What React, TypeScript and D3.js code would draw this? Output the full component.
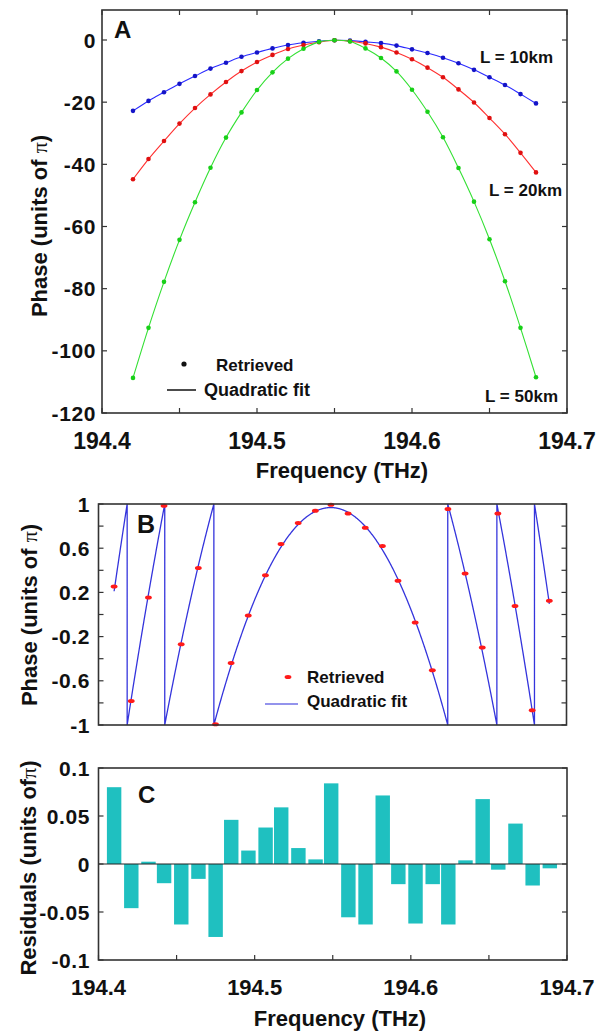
import React from "react";
import * as d3 from "d3";

// ---------- Panel A data ----------
const freqA = [194.42, 194.43, 194.44, 194.45, 194.46, 194.47, 194.48, 194.49, 194.5, 194.51, 194.52, 194.53, 194.54, 194.55, 194.56, 194.57, 194.58, 194.59, 194.6, 194.61, 194.62, 194.63, 194.64, 194.65, 194.66, 194.67, 194.68];
const phase10km = [-22.8, -19.6, -16.8, -14.1, -11.6, -9.2, -7.3, -5.4, -4.0, -2.7, -1.6, -0.9, -0.4, -0.1, -0.2, -0.6, -1.0, -1.8, -3.0, -4.2, -5.7, -7.5, -9.6, -12.0, -14.5, -17.4, -20.4];
const phase20km = [-44.8, -38.3, -32.5, -26.9, -21.9, -17.5, -13.5, -10.0, -7.1, -4.8, -2.9, -1.6, -0.7, -0.1, -0.4, -1.1, -2.3, -4.0, -6.2, -8.9, -12.0, -15.9, -20.1, -25.1, -30.3, -36.3, -42.6];
const phase50km = [-108.7, -92.6, -77.8, -64.3, -52.2, -41.1, -31.4, -23.3, -16.1, -10.4, -6.0, -2.8, -0.6, -0.1, -0.5, -2.7, -5.8, -10.1, -16.0, -23.1, -31.3, -41.2, -52.0, -64.1, -77.6, -92.6, -108.5];
const seriesLabels = ["L = 10km", "L = 20km", "L = 50km"];

// ---------- Panel B / C data ----------
const freqB = [194.410, 194.421, 194.432, 194.442, 194.453, 194.464, 194.475, 194.485, 194.496, 194.507, 194.517, 194.528, 194.539, 194.549, 194.560, 194.571, 194.582, 194.592, 194.603, 194.614, 194.624, 194.635, 194.646, 194.656, 194.667, 194.678, 194.689];
const wrappedPhase = [0.254, -0.782, 0.154, 0.985, -0.269, 0.42, -0.994, -0.438, -0.009, 0.356, 0.637, 0.828, 0.94, 0.994, 0.915, 0.785, 0.619, 0.305, -0.073, -0.505, 0.955, 0.372, -0.299, 0.915, 0.076, -0.867, 0.124];
const residuals = [0.080, -0.046, 0.0024, -0.020, -0.063, -0.0155, -0.076, 0.046, 0.014, 0.038, 0.059, 0.0166, 0.0048, 0.084, -0.0555, -0.063, 0.0714, -0.021, -0.062, -0.021, -0.063, 0.0038, 0.0676, -0.0059, 0.0421, -0.0224, -0.0045];

// ---------- ticks ----------
const ticksX = [194.4, 194.45, 194.5, 194.55, 194.6, 194.65, 194.7];
const labelsX = ["194.4", "194.5", "194.6", "194.7"];
const ticksAY = [-120, -100, -80, -60, -40, -20, 0];
const ticksBY = [-1, -0.8, -0.6, -0.4, -0.2, 0, 0.2, 0.4, 0.6, 0.8, 1];
const labelsBY = ["-1", "-0.6", "-0.2", "0.2", "0.6", "1"];
const ticksCY = [-0.1, -0.05, 0, 0.05, 0.1];
const labelsCY = ["-0.1", "-0.05", "0", "0.05", "0.1"];

const FONT = "'Liberation Sans', Arial, sans-serif";
const FRAME = "#333";

function unwrap(w: number[]): number[] {
  const u: number[] = [w[0]];
  for (let i = 1; i < w.length; i++) {
    const p = i === 1 ? u[0] : 2 * u[i - 1] - u[i - 2];
    u.push(w[i] + 2 * Math.round((p - w[i]) / 2));
  }
  return u;
}

function quadFit(x: number[], y: number[]) {
  const m = d3.mean(x) as number;
  let s0 = 0, s1 = 0, s2 = 0, s3 = 0, s4 = 0, t0 = 0, t1 = 0, t2 = 0;
  x.forEach((xi, i) => {
    const t = xi - m;
    s0 += 1; s1 += t; s2 += t * t; s3 += t * t * t; s4 += t * t * t * t;
    t0 += y[i]; t1 += y[i] * t; t2 += y[i] * t * t;
  });
  const A = [[s0, s1, s2, t0], [s1, s2, s3, t1], [s2, s3, s4, t2]];
  for (let c = 0; c < 3; c++) {
    for (let r = c + 1; r < 3; r++) {
      const f = A[r][c] / A[c][c];
      for (let k = c; k < 4; k++) A[r][k] -= f * A[c][k];
    }
  }
  const sol = [0, 0, 0];
  for (let r = 2; r >= 0; r--) {
    let s = A[r][3];
    for (let k = r + 1; k < 3; k++) s -= A[r][k] * sol[k];
    sol[r] = s / A[r][r];
  }
  return (f: number) => {
    const t = f - m;
    return sol[0] + sol[1] * t + sol[2] * t * t;
  };
}

export default function App() {
  // ---------- Panel A scales ----------
  const xA = d3.scaleLinear().domain([194.4, 194.7]).range([102, 567]);
  const yA = d3.scaleLinear().domain([-120, 0]).range([413, 40]);
  const topA = 10;
  const lineA = d3.line<number>().x((_, i) => xA(freqA[i])).y((d) => yA(d)).curve(d3.curveCatmullRom.alpha(0.5));
  const seriesA = [
    { data: phase10km, line: "#2a2aff", dot: "#1414c8" },
    { data: phase20km, line: "#ff3030", dot: "#e01010" },
    { data: phase50km, line: "#33e033", dot: "#18d018" },
  ];

  // ---------- Panel B scales ----------
  const xB = d3.scaleLinear().domain([194.4, 194.7]).range([98.5, 566.5]);
  const yB = d3.scaleLinear().domain([-1, 1]).range([725, 504]);
  const unwrapped = unwrap(wrappedPhase);
  const fit = quadFit(freqB, unwrapped);
  const f0 = freqB[0], f1 = freqB[freqB.length - 1];
  const N = 1200;
  const ptsB: [number, number][] = [];
  let prevK: number | null = null, prevF = 0, prevV = 0;
  for (let i = 0; i <= N; i++) {
    const f = f0 + ((f1 - f0) * i) / N;
    const v = fit(f);
    const k = Math.floor((v + 1) / 2);
    if (prevK !== null && k !== prevK) {
      const b = 2 * Math.max(k, prevK) - 1;
      const fc = prevF + ((b - prevV) / (v - prevV)) * (f - prevF);
      if (k > prevK) { ptsB.push([fc, 1]); ptsB.push([fc, -1]); }
      else { ptsB.push([fc, -1]); ptsB.push([fc, 1]); }
    }
    ptsB.push([f, v - 2 * k]);
    prevK = k; prevF = f; prevV = v;
  }
  const pathB = d3.line<[number, number]>().x((d) => xB(d[0])).y((d) => yB(d[1]))(ptsB) || "";

  // ---------- Panel C scales ----------
  const xC = d3.scaleLinear().domain([194.4, 194.7]).range([98.5, 567]);
  const yC = d3.scaleLinear().domain([-0.1, 0.1]).range([960, 768]);
  const barW = (xC(freqB[1]) - xC(freqB[0])) * 0.84;

  const tickLen = 5;

  return (
    <svg width={600} height={1033} style={{ position: "absolute", left: 0, top: 0, background: "#fff" }} fontFamily={FONT}>
      <rect x={0} y={0} width={600} height={1033} fill="#fff" />
      {/* ================= Panel A ================= */}
      <g>
        {seriesA.map((s, si) => (
          <g key={si}>
            <path d={lineA(s.data) || ""} fill="none" stroke={s.line} strokeWidth={1.1} />
            {s.data.map((v, i) => (
              <circle key={i} cx={xA(freqA[i])} cy={yA(v)} r={2.3} fill={s.dot} />
            ))}
          </g>
        ))}
        <rect x={xA(194.4)} y={topA} width={xA(194.7) - xA(194.4)} height={yA(-120) - topA} fill="none" stroke={FRAME} strokeWidth={1.6} />
        {ticksX.map((t) => (
          <g key={t}>
            <line x1={xA(t)} x2={xA(t)} y1={yA(-120)} y2={yA(-120) - tickLen} stroke={FRAME} strokeWidth={1.2} />
            <line x1={xA(t)} x2={xA(t)} y1={topA} y2={topA + tickLen} stroke={FRAME} strokeWidth={1.2} />
          </g>
        ))}
        {ticksAY.map((t) => (
          <g key={t}>
            <line x1={xA(194.4)} x2={xA(194.4) + tickLen} y1={yA(t)} y2={yA(t)} stroke={FRAME} strokeWidth={1.2} />
            <line x1={xA(194.7)} x2={xA(194.7) - tickLen} y1={yA(t)} y2={yA(t)} stroke={FRAME} strokeWidth={1.2} />
            <text x={96} y={yA(t)} dy="0.36em" textAnchor="end" fontSize={21} fontWeight="bold" fill="#111" letterSpacing={0.6}>{String(t)}</text>
          </g>
        ))}
        {labelsX.map((l) => (
          <text key={l} x={xA(+l)} y={449} textAnchor="middle" fontSize={23} fontWeight="bold" fill="#111">{l}</text>
        ))}
        <text x={342} y={478} textAnchor="middle" fontSize={22} fontWeight="bold" fill="#111">Frequency (THz)</text>
        <text transform="translate(47,226) rotate(-90)" textAnchor="middle" fontSize={22} fontWeight="bold" fill="#111">
          Phase (units of <tspan fontFamily="'Liberation Serif', serif" fontWeight="normal">π</tspan>)
        </text>
        <text x={114} y={38} fontSize={24} fontWeight="bold" fill="#111">A</text>
        <text x={553} y={63} textAnchor="end" fontSize={17} fontWeight="bold" fill="#111">{seriesLabels[0]}</text>
        <text x={562} y={196} textAnchor="end" fontSize={17} fontWeight="bold" fill="#111">{seriesLabels[1]}</text>
        <text x={558} y={402} textAnchor="end" fontSize={17} fontWeight="bold" fill="#111">{seriesLabels[2]}</text>
        {/* legend */}
        <circle cx={184} cy={364} r={2.6} fill="#111" />
        <text x={216} y={371} fontSize={17} fontWeight="bold" fill="#111">Retrieved</text>
        <line x1={167} x2={196} y1={390} y2={390} stroke="#111" strokeWidth={1.5} />
        <text x={204} y={396} fontSize={18} fontWeight="bold" fill="#111">Quadratic fit</text>
      </g>

      {/* ================= Panel B ================= */}
      <g>
        <path d={pathB} fill="none" stroke="#3434dc" strokeWidth={1.3} />
        {wrappedPhase.map((v, i) => (
          <ellipse key={i} cx={xB(freqB[i])} cy={yB(v)} rx={3.4} ry={2} fill="#ff1a1a" />
        ))}
        <rect x={xB(194.4)} y={yB(1)} width={xB(194.7) - xB(194.4)} height={yB(-1) - yB(1)} fill="none" stroke={FRAME} strokeWidth={1.6} />
        {ticksBY.map((t) => (
          <g key={t}>
            <line x1={xB(194.4)} x2={xB(194.4) + tickLen} y1={yB(t)} y2={yB(t)} stroke={FRAME} strokeWidth={1.2} />
            <line x1={xB(194.7)} x2={xB(194.7) - tickLen} y1={yB(t)} y2={yB(t)} stroke={FRAME} strokeWidth={1.2} />
          </g>
        ))}
        {labelsBY.map((l) => (
          <text key={l} x={90} y={yB(+l)} dy="0.36em" textAnchor="end" fontSize={21} fontWeight="bold" fill="#111" letterSpacing={0.6}>{l}</text>
        ))}
        <text transform="translate(37,615) rotate(-90)" textAnchor="middle" fontSize={22} fontWeight="bold" fill="#111">
          Phase (units of <tspan fontFamily="'Liberation Serif', serif" fontWeight="normal">π</tspan>)
        </text>
        <text x={137} y={533} fontSize={25} fontWeight="bold" fill="#111">B</text>
        {/* legend */}
        <ellipse cx={288} cy={677} rx={3.4} ry={2} fill="#ff1a1a" />
        <text x={307} y={683} fontSize={17} fontWeight="bold" fill="#111">Retrieved</text>
        <line x1={265} x2={298} y1={704} y2={704} stroke="#6f6fe6" strokeWidth={1.5} />
        <text x={307} y={707} fontSize={17} fontWeight="bold" fill="#111">Quadratic fit</text>
      </g>

      {/* ================= Panel C ================= */}
      <g>
        {residuals.map((r, i) => (
          <rect key={i} x={xC(freqB[i]) - barW / 2} y={Math.min(yC(r), yC(0))} width={barW} height={Math.abs(yC(r) - yC(0))} fill="#1fc0c0" />
        ))}
        <line x1={xC(194.4)} x2={xC(194.7)} y1={yC(0)} y2={yC(0)} stroke="#222" strokeWidth={1.2} />
        <rect x={xC(194.4)} y={yC(0.1)} width={xC(194.7) - xC(194.4)} height={yC(-0.1) - yC(0.1)} fill="none" stroke={FRAME} strokeWidth={1.6} />
        {ticksX.map((t) => (
          <line key={t} x1={xC(t)} x2={xC(t)} y1={yC(-0.1)} y2={yC(-0.1) - tickLen} stroke={FRAME} strokeWidth={1.2} />
        ))}
        {ticksCY.map((t) => (
          <g key={t}>
            <line x1={xC(194.4)} x2={xC(194.4) + tickLen} y1={yC(t)} y2={yC(t)} stroke={FRAME} strokeWidth={1.2} />
            <line x1={xC(194.7)} x2={xC(194.7) - tickLen} y1={yC(t)} y2={yC(t)} stroke={FRAME} strokeWidth={1.2} />
          </g>
        ))}
        {labelsCY.map((l) => (
          <text key={l} x={90} y={yC(+l)} dy="0.36em" textAnchor="end" fontSize={21} fontWeight="bold" fill="#111" letterSpacing={0.6}>{l}</text>
        ))}
        {labelsX.map((l) => (
          <text key={l} x={xC(+l)} y={995} textAnchor="middle" fontSize={22} fontWeight="bold" fill="#111">{l}</text>
        ))}
        <text x={340} y={1026} textAnchor="middle" fontSize={22} fontWeight="bold" fill="#111">Frequency (THz)</text>
        <text transform="translate(36,868) rotate(-90)" textAnchor="middle" fontSize={22} fontWeight="bold" fill="#111">
          Residuals (units of<tspan fontFamily="'Liberation Serif', serif" fontWeight="normal">π</tspan>)
        </text>
        <text x={138} y={803} fontSize={24} fontWeight="bold" fill="#111">C</text>
      </g>
    </svg>
  );
}
